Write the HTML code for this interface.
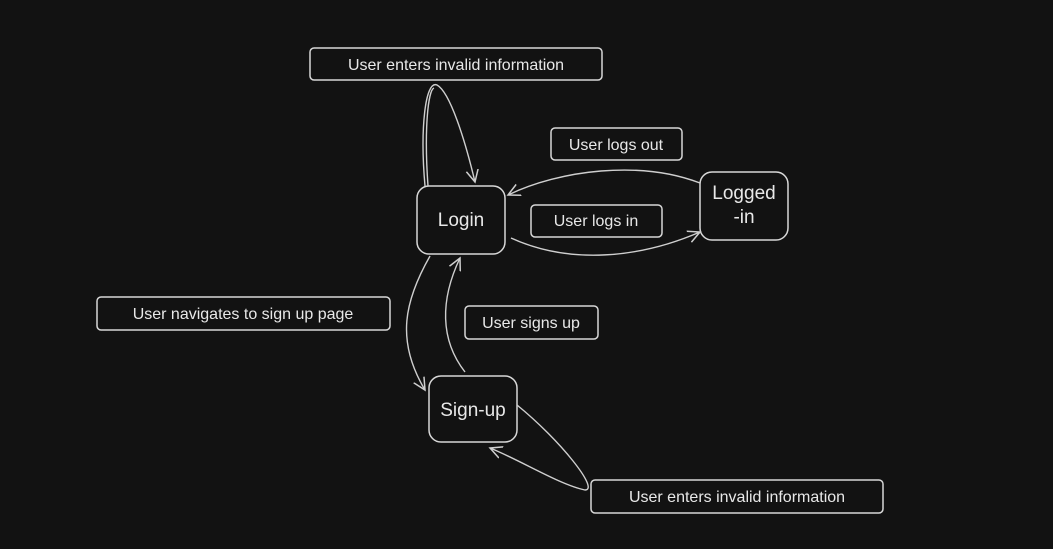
<!DOCTYPE html>
<html><head><style>
html,body{margin:0;padding:0;background:#121212;}
svg{display:block;}
text{font-family:"Liberation Sans",sans-serif;fill:#e8e8e8;}
</style></head><body>
<svg width="1053" height="549" viewBox="0 0 1053 549" xmlns="http://www.w3.org/2000/svg">
<rect width="1053" height="549" fill="#121212"/>
<defs>
<marker id="a" markerWidth="14" markerHeight="14" refX="12" refY="7" orient="auto" markerUnits="userSpaceOnUse">
<path d="M0,1 L12,7 L0,13" fill="none" stroke="#cfcfcf" stroke-width="1.5"/>
</marker>
</defs>
<g fill="none" stroke="#d8d8d8" stroke-width="1.5">
<!-- label boxes -->
<rect x="310" y="48" width="292" height="32" rx="4"/>
<rect x="551" y="128" width="131" height="32" rx="4"/>
<rect x="531" y="205" width="131" height="32" rx="4"/>
<rect x="97" y="297" width="293" height="33" rx="4"/>
<rect x="465" y="306" width="133" height="33" rx="4"/>
<rect x="591" y="480" width="292" height="33" rx="4"/>
<!-- nodes -->
<rect x="417" y="186" width="88" height="68" rx="12"/>
<rect x="700" y="172" width="88" height="68" rx="12"/>
<rect x="429" y="376" width="88" height="66" rx="12"/>
</g>
<g fill="none" stroke="#cfcfcf" stroke-width="1.4">
<path d="M425,186 C420,130 425,80 437,85 C450,92 465,140 475,182" marker-end="url(#a)"/>
<path d="M428,186 C424,130 428,90 434,88" />
<path d="M700,183 C640,160 560,170 508,195" marker-end="url(#a)"/>
<path d="M511,238 C570,265 640,258 700,232" marker-end="url(#a)"/>
<path d="M430,256 C405,300 395,340 425,390" marker-end="url(#a)"/>
<path d="M465,372 C440,340 440,300 460,258" marker-end="url(#a)"/>
<path d="M517,405 C560,440 600,490 585,490 C560,485 520,460 490,448" marker-end="url(#a)"/>
</g>
<g font-size="16">
<text x="456" y="70" text-anchor="middle">User enters invalid information</text>
<text x="616" y="150" text-anchor="middle">User logs out</text>
<text x="596" y="226" text-anchor="middle">User logs in</text>
<text x="243" y="319" text-anchor="middle">User navigates to sign up page</text>
<text x="531" y="328" text-anchor="middle">User signs up</text>
<text x="737" y="502" text-anchor="middle">User enters invalid information</text>
</g>
<g font-size="19">
<text x="461" y="226" text-anchor="middle">Login</text>
<text x="744" y="199" text-anchor="middle">Logged</text>
<text x="744" y="223" text-anchor="middle">-in</text>
<text x="473" y="416" text-anchor="middle">Sign-up</text>
</g>
</svg>
</body></html>
